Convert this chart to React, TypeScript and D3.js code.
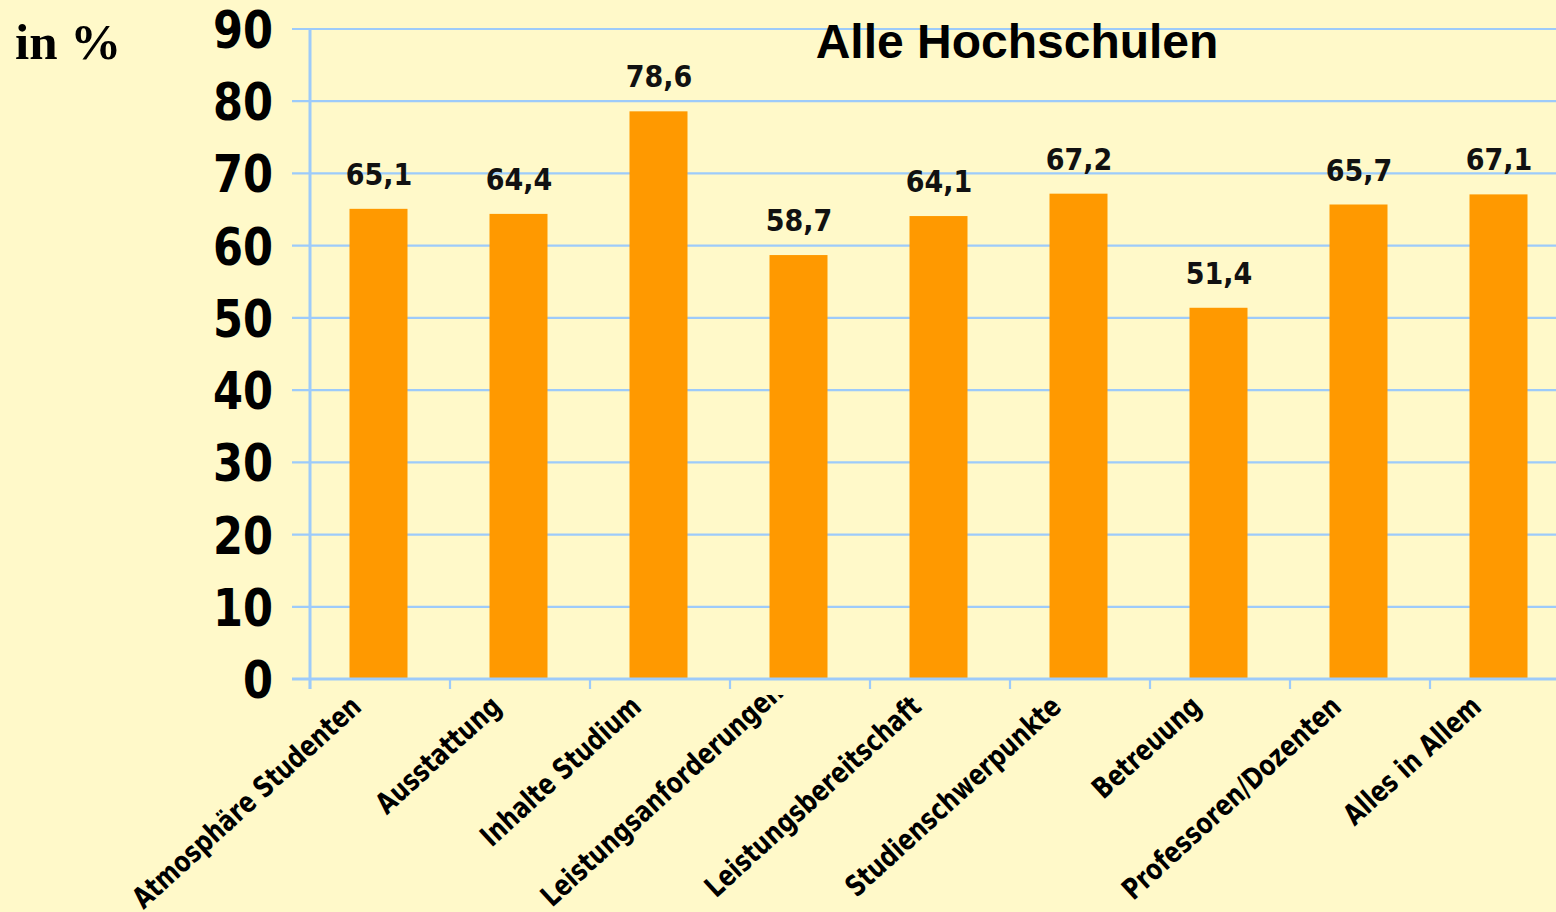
import { useLayoutEffect, useMemo, useRef, useState } from 'react';
import * as d3 from 'd3';

const categories = [
  'Atmosphäre Studenten',
  'Ausstattung',
  'Inhalte Studium',
  'Leistungsanforderungen',
  'Leistungsbereitschaft',
  'Studienschwerpunkte',
  'Betreuung',
  'Professoren/Dozenten',
  'Alles in Allem',
];
const values = [65.1, 64.4, 78.6, 58.7, 64.1, 67.2, 51.4, 65.7, 67.1];
const yTicks = [0, 10, 20, 30, 40, 50, 60, 70, 80, 90];

const W = 1556;
const H = 912;
const BG = '#FFF9C9';
const BAR = '#FF9900';
const GRID = '#9DCBFA';
const SANS = '"DejaVu Sans", Verdana, sans-serif';

// rotated category labels
const ANGLE = 42.5;
const LABEL_SX = 0.785;
const MAX_LABEL = 300; // longer labels start at the bottom and overflow into the clip
const rad = (ANGLE * Math.PI) / 180;
const dir: [number, number] = [Math.cos(rad), -Math.sin(rad)];

const fmt = (v: number) => v.toFixed(1).replace('.', ',');

export default function App() {
  const left = 310;
  const step = 140;
  const x = useMemo(
    () => d3.scaleBand<string>().domain(categories).range([left, left + step * categories.length]).padding(0),
    []
  );
  const y = useMemo(() => d3.scaleLinear().domain([0, 90]).range([679, 29]), []);
  const barW = 58;

  const labelRefs = useRef<(SVGTextElement | null)[]>([]);
  const [lengths, setLengths] = useState<number[] | null>(null);

  useLayoutEffect(() => {
    setLengths(labelRefs.current.map(el => (el ? el.getComputedTextLength() * LABEL_SX : 0)));
  }, []);

  return (
    <div style={{ position: 'fixed', left: 0, top: 0, width: W, height: H, background: BG }}>
      <svg width={W} height={H} style={{ display: 'block' }}>
        <defs>
          <clipPath id="labelClip">
            <rect x={0} y={695} width={W} height={H - 695} />
          </clipPath>
        </defs>
        <rect width={W} height={H} fill={BG} />

        {/* gridlines */}
        {yTicks.map(t => (
          <line key={t} x1={292} x2={W} y1={y(t)} y2={y(t)} stroke={GRID} strokeWidth={2.2} />
        ))}

        {/* bars */}
        {categories.map((c, i) => {
          const cx = x(c)! + x.bandwidth() / 2 - 1.5;
          return (
            <rect key={c} x={cx - barW / 2} y={y(values[i])} width={barW} height={y(0) - y(values[i])} fill={BAR} />
          );
        })}

        {/* axes */}
        <line x1={310} x2={310} y1={y(90)} y2={689} stroke={GRID} strokeWidth={3} />
        <line x1={292} x2={W} y1={y(0)} y2={y(0)} stroke={GRID} strokeWidth={3} />
        {categories.map(c => (
          <line key={c} x1={x(c)!} x2={x(c)!} y1={y(0)} y2={689} stroke={GRID} strokeWidth={2.2} />
        ))}

        {/* y tick labels */}
        {yTicks.map(t => (
          <text
            key={t}
            transform={`translate(273,${y(t) + 19}) scale(0.83,1)`}
            textAnchor="end"
            fontFamily={SANS}
            fontWeight="bold"
            fontSize={52}
            fill="#000"
          >
            {t}
          </text>
        ))}

        {/* value labels */}
        {categories.map((c, i) => (
          <text
            key={c}
            transform={`translate(${x(c)! + x.bandwidth() / 2 - 1},${y(values[i]) - 24}) scale(0.9,1)`}
            textAnchor="middle"
            fontFamily={SANS}
            fontWeight="bold"
            fontSize={30}
            fill="#111"
          >
            {fmt(values[i])}
          </text>
        ))}

        {/* category labels */}
        <g clipPath="url(#labelClip)">
          {categories.map((c, i) => {
            const cx = x(c)! + x.bandwidth() / 2;
            let sx = cx - 17;
            let sy = 709;
            let anchor: 'start' | 'end' = 'end';
            if (lengths) {
              anchor = 'start';
              if (lengths[i] > MAX_LABEL) {
                sx = cx - 248;
                sy = 908;
              } else {
                sx -= lengths[i] * dir[0];
                sy -= lengths[i] * dir[1];
              }
            }
            return (
              <text
                key={c}
                ref={el => {
                  labelRefs.current[i] = el;
                }}
                transform={`translate(${sx},${sy}) rotate(${-ANGLE}) scale(${LABEL_SX},1)`}
                textAnchor={anchor}
                fontFamily={SANS}
                fontWeight="bold"
                fontSize={29}
                fill="#000"
              >
                {c}
              </text>
            );
          })}
        </g>

        {/* title */}
        <text
          x={1017}
          y={58}
          textAnchor="middle"
          fontFamily='"Liberation Sans", Arial, sans-serif'
          fontWeight="bold"
          fontSize={48}
          fill="#000"
        >
          Alle Hochschulen
        </text>

        {/* unit */}
        <text
          x={15}
          y={59}
          fontFamily='"Liberation Serif", "Times New Roman", serif'
          fontWeight="bold"
          fontSize={51}
          fill="#000"
        >
          in %
        </text>
      </svg>
    </div>
  );
}
